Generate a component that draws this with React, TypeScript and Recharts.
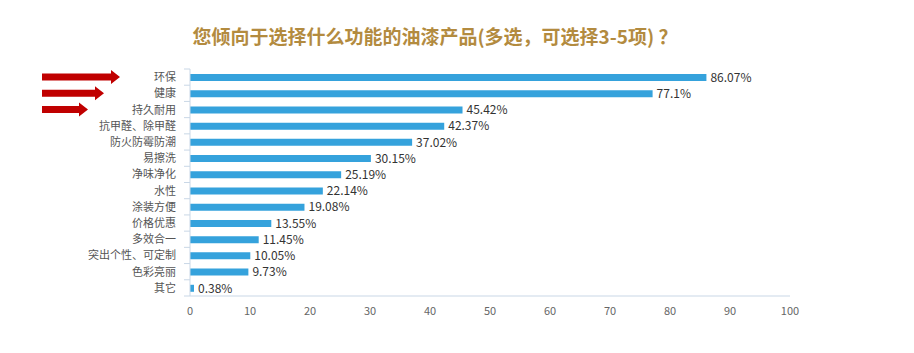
import React from 'react';
import { BarChart, Bar, XAxis, YAxis, LabelList } from 'recharts';

const categories = [
  '环保',
  '健康',
  '持久耐用',
  '抗甲醛、除甲醛',
  '防火防霉防潮',
  '易擦洗',
  '净味净化',
  '水性',
  '涂装方便',
  '价格优惠',
  '多效合一',
  '突出个性、可定制',
  '色彩亮丽',
  '其它',
];

const percentages = [86.07, 77.1, 45.42, 42.37, 37.02, 30.15, 25.19, 22.14, 19.08, 13.55, 11.45, 10.05, 9.73, 0.38];

const xTicks = [0, 10, 20, 30, 40, 50, 60, 70, 80, 90, 100];

const TITLE = '您倾向于选择什么功能的油漆产品(多选，可选择3-5项) ？';

const data = categories.map((name, i) => ({ name, value: percentages[i] }));

const FONT = '"Noto Sans CJK SC", "Noto Sans", sans-serif';
const BAND = 227 / categories.length;
// arrow tips for the highlighted rows
const ARROW_TIPS = [120, 104, 88];

const CategoryTick = (props: any) => {
  const { x, y, payload, index } = props;
  const isLast = index === categories.length - 1;
  const tip = ARROW_TIPS[index];
  return (
    <g>
      <text x={x - 6} y={y} dy={4} textAnchor="end" fill="#555" fontSize={11} fontFamily={FONT}>
        {payload.value}
      </text>
      <line x1={x + 2} x2={x + 8} y1={y - BAND / 2} y2={y - BAND / 2} stroke="#c9d7e6" />
      {isLast && <line x1={x + 2} x2={x + 8} y1={y + BAND / 2} y2={y + BAND / 2} stroke="#c9d7e6" />}
      {tip !== undefined && (
        <polygon
          fill="#c00000"
          points={`42,${y - 3.5} ${tip - 9},${y - 3.5} ${tip - 9},${y - 7} ${tip},${y} ${tip - 9},${y + 7} ${tip - 9},${y + 3.5} 42,${y + 3.5}`}
        />
      )}
    </g>
  );
};

export default function App() {
  return (
    <div style={{ position: 'absolute', left: 0, top: 0, width: 914, height: 353, background: '#fff' }}>
      <div
        style={{
          position: 'absolute',
          left: 0,
          top: 22,
          width: 870,
          textAlign: 'center',
          fontFamily: FONT,
          fontWeight: 'bold',
          fontSize: 19,
          color: '#b38b3f',
          lineHeight: '28px',
        }}
      >
        {TITLE}
      </div>
      <BarChart
        width={914}
        height={353}
        data={data}
        layout="vertical"
        margin={{ top: 69, right: 124, left: 0, bottom: 27 }}
      >
        <XAxis
          type="number"
          domain={[0, 100]}
          ticks={xTicks}
          axisLine={{ stroke: '#c9d7e6' }}
          tickLine={false}
          tickMargin={5}
          tick={{ fill: '#666', fontSize: 11, fontFamily: FONT }}
          height={30}
        />
        <YAxis
          type="category"
          dataKey="name"
          width={190}
          axisLine={{ stroke: '#c9d7e6' }}
          tickLine={false}
          tick={<CategoryTick />}
          interval={0}
        />
        <Bar dataKey="value" fill="#35a2dc" barSize={7} minPointSize={4} isAnimationActive={false}>
          <LabelList
            dataKey="value"
            position="right"
            offset={4}
            formatter={(v: any) => `${v}%`}
            fill="#333"
            fontSize={12}
            fontFamily={FONT}
          />
        </Bar>
      </BarChart>
    </div>
  );
}
